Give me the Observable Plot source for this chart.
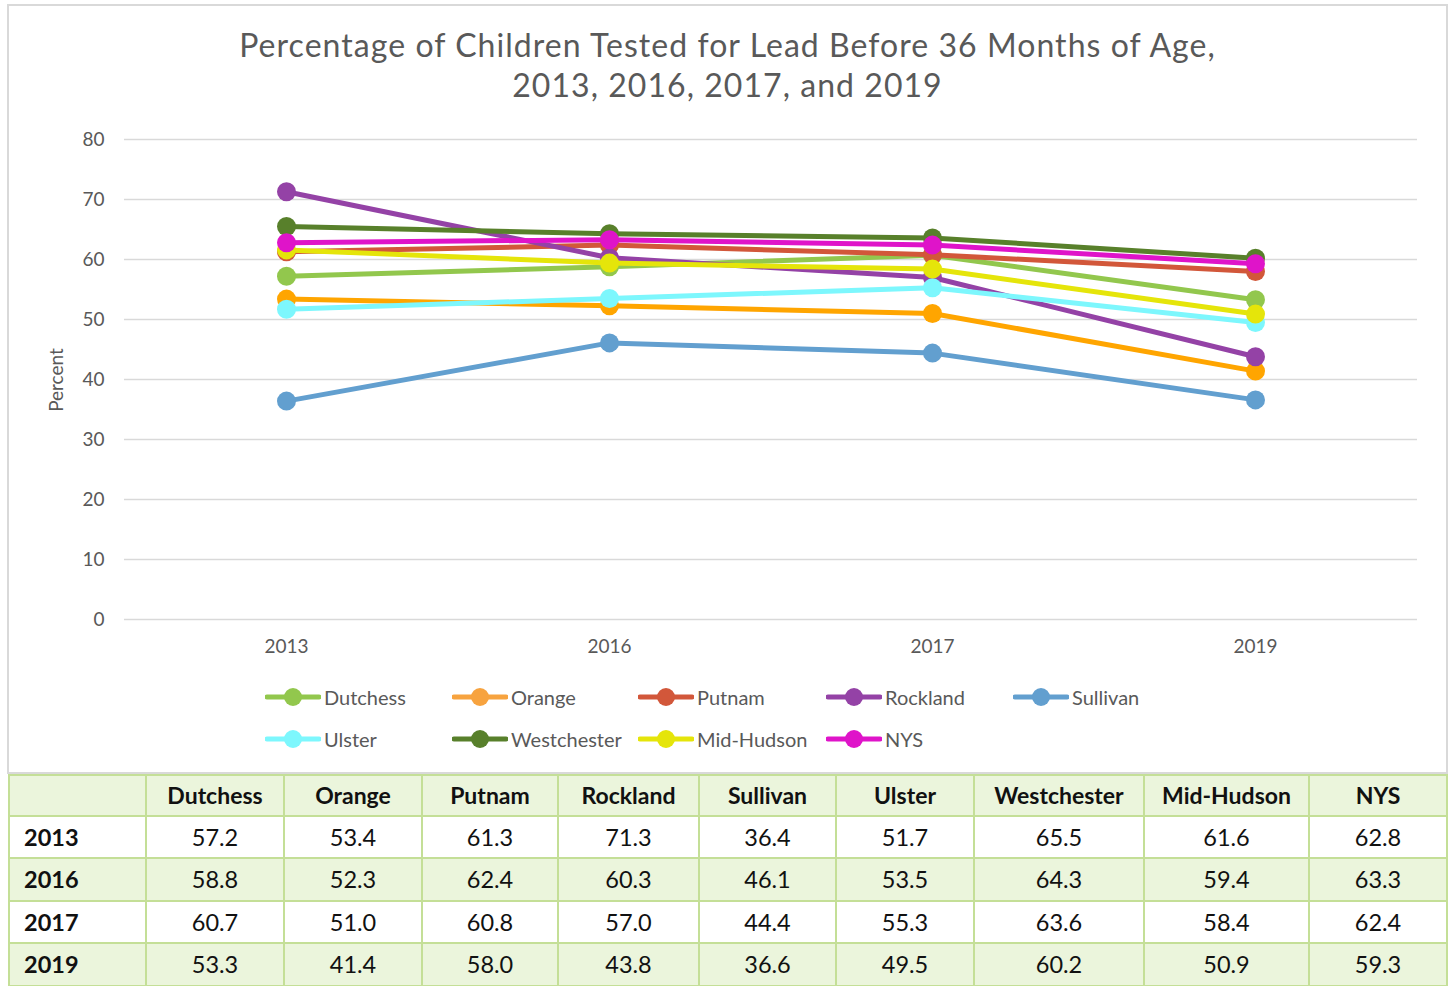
<!DOCTYPE html>
<html>
<head>
<meta charset="utf-8">
<script src="https://cdn.jsdelivr.net/npm/d3@7"></script>
<script src="https://cdn.jsdelivr.net/npm/@observablehq/plot@0.6"></script>
<style>
  body { margin: 0; background: #fff; font-family: Lato, "Open Sans", sans-serif; }
  #wrap { position: relative; width: 1450px; height: 986px; overflow: hidden; }
  #frame { position: absolute; left: 7px; top: 4px; width: 1437px; height: 766px; border: 2px solid #d9d9d9; box-sizing: content-box; }
  #title { position: absolute; left: 8px; width: 1439px; top: 25px; text-align: center; font-size: 32px; line-height: 40px; color: #595959; letter-spacing: 1.05px; }
  #plot { position: absolute; left: 8px; top: 120px; }
  #ylab { position: absolute; left: 55px; top: 380px; transform: translate(-50%, -50%) rotate(-90deg); font-size: 19px; color: #595959; white-space: nowrap; }
  .leg { position: absolute; display: flex; align-items: center; font-size: 20px; color: #595959; height: 24px; }
  .leg svg { margin-right: 3px; }
  table { position: absolute; left: 8px; top: 774px; border-collapse: collapse; table-layout: fixed; font-family: Lato, sans-serif; }
  td { border: 2.5px solid #c4df97; height: 40.5px; padding: 0; text-align: center; font-size: 23.5px; line-height: 26px; color: #111; }
  tr.h td { font-weight: bold; background: #ebf5dc; font-size: 23px; height: 38.5px; }
  tr.g td { background: #ebf5dc; }
  td.yr { text-align: left; padding-left: 14px; font-weight: bold; }
</style>
</head>
<body>
<div id="wrap">
  <div id="frame"></div>
  <div id="title">Percentage of Children Tested for Lead Before 36 Months of Age,<br>2013, 2016, 2017, and 2019</div>
  <div id="plot"></div>
  <div id="ylab">Percent</div>
  <div id="legend"></div>
  <table id="tbl"></table>
</div>
<script>
const years = ["2013", "2016", "2017", "2019"];
const seriesNames = ["Dutchess", "Orange", "Putnam", "Rockland", "Sullivan", "Ulster", "Westchester", "Mid-Hudson", "NYS"];
const seriesColors = ["#92c74d", "#f7a33f", "#d2573a", "#9442a6", "#629fcf", "#7df7fd", "#58802b", "#e5e50a", "#df14c9"];
const dutchess    = [57.2, 58.8, 60.7, 53.3];
const orange      = [53.4, 52.3, 51.0, 41.4];
const putnam      = [61.3, 62.4, 60.8, 58.0];
const rockland    = [71.3, 60.3, 57.0, 43.8];
const sullivan    = [36.4, 46.1, 44.4, 36.6];
const ulster      = [51.7, 53.5, 55.3, 49.5];
const westchester = [65.5, 64.3, 63.6, 60.2];
const midHudson   = [61.6, 59.4, 58.4, 50.9];
const nys         = [62.8, 63.3, 62.4, 59.3];
const yTicks = [0, 10, 20, 30, 40, 50, 60, 70, 80];

const seriesValues = [dutchess, orange, putnam, rockland, sullivan, ulster, westchester, midHudson, nys];
const data = seriesNames.flatMap((s, i) => years.map((y, j) => ({series: s, year: y, value: seriesValues[i][j]})));

const marks = [
  Plot.gridY(yTicks, {stroke: "#d9d9d9", strokeOpacity: 1, strokeWidth: 1.6}),
  Plot.axisY(yTicks, {tickSize: 0, tickPadding: 20, fontSize: 19, fill: "#595959", label: null}),
  Plot.axisX({tickSize: 0, tickPadding: 20, fontSize: 19, fill: "#595959", label: null})
];
seriesNames.forEach(s => {
  const d = data.filter(r => r.series === s);
  marks.push(Plot.line(d, {x: "year", y: "value", stroke: "series", strokeWidth: 5}));
  marks.push(Plot.dot(d, {x: "year", y: "value", fill: "series", r: 9.5, stroke: null}));
});

const chart = Plot.plot({
  width: 1439, height: 550,
  marginTop: 19, marginBottom: 51, marginLeft: 116, marginRight: 30,
  style: {fontFamily: "Lato, sans-serif", background: "transparent"},
  x: {type: "point", domain: years, padding: 0.5},
  y: {domain: [0, 80]},
  color: {domain: seriesNames, range: seriesColors},
  marks
});
document.getElementById("plot").appendChild(chart);

// legend
const legCols = [265, 452, 638, 826, 1013];
const legRows = [697, 739];
const legend = document.getElementById("legend");
seriesNames.forEach((s, i) => {
  const row = Math.floor(i / 5), col = i % 5;
  const el = document.createElement("div");
  el.className = "leg";
  el.style.left = legCols[col] + "px";
  el.style.top = (legRows[row] - 12) + "px";
  el.innerHTML = `<svg width="56" height="24"><line x1="2" y1="12" x2="54" y2="12" stroke="${seriesColors[i]}" stroke-width="5" stroke-linecap="round"/><circle cx="28" cy="12" r="9" fill="${seriesColors[i]}"/></svg><span>${s}</span>`;
  legend.appendChild(el);
});

// table
const colWidths = [137, 138, 138, 136, 141, 137, 138, 170, 165, 138];
const tbl = document.getElementById("tbl");
const cg = document.createElement("colgroup");
colWidths.forEach(w => { const c = document.createElement("col"); c.style.width = w + "px"; cg.appendChild(c); });
tbl.appendChild(cg);
const hr = document.createElement("tr");
hr.className = "h";
hr.innerHTML = "<td></td>" + seriesNames.map(s => `<td>${s}</td>`).join("");
tbl.appendChild(hr);
years.forEach((y, j) => {
  const tr = document.createElement("tr");
  if (j % 2 === 1) tr.className = "g";
  tr.innerHTML = `<td class="yr">${y}</td>` + seriesValues.map(v => `<td>${v[j].toFixed(1)}</td>`).join("");
  tbl.appendChild(tr);
});
</script>
</body>
</html>
